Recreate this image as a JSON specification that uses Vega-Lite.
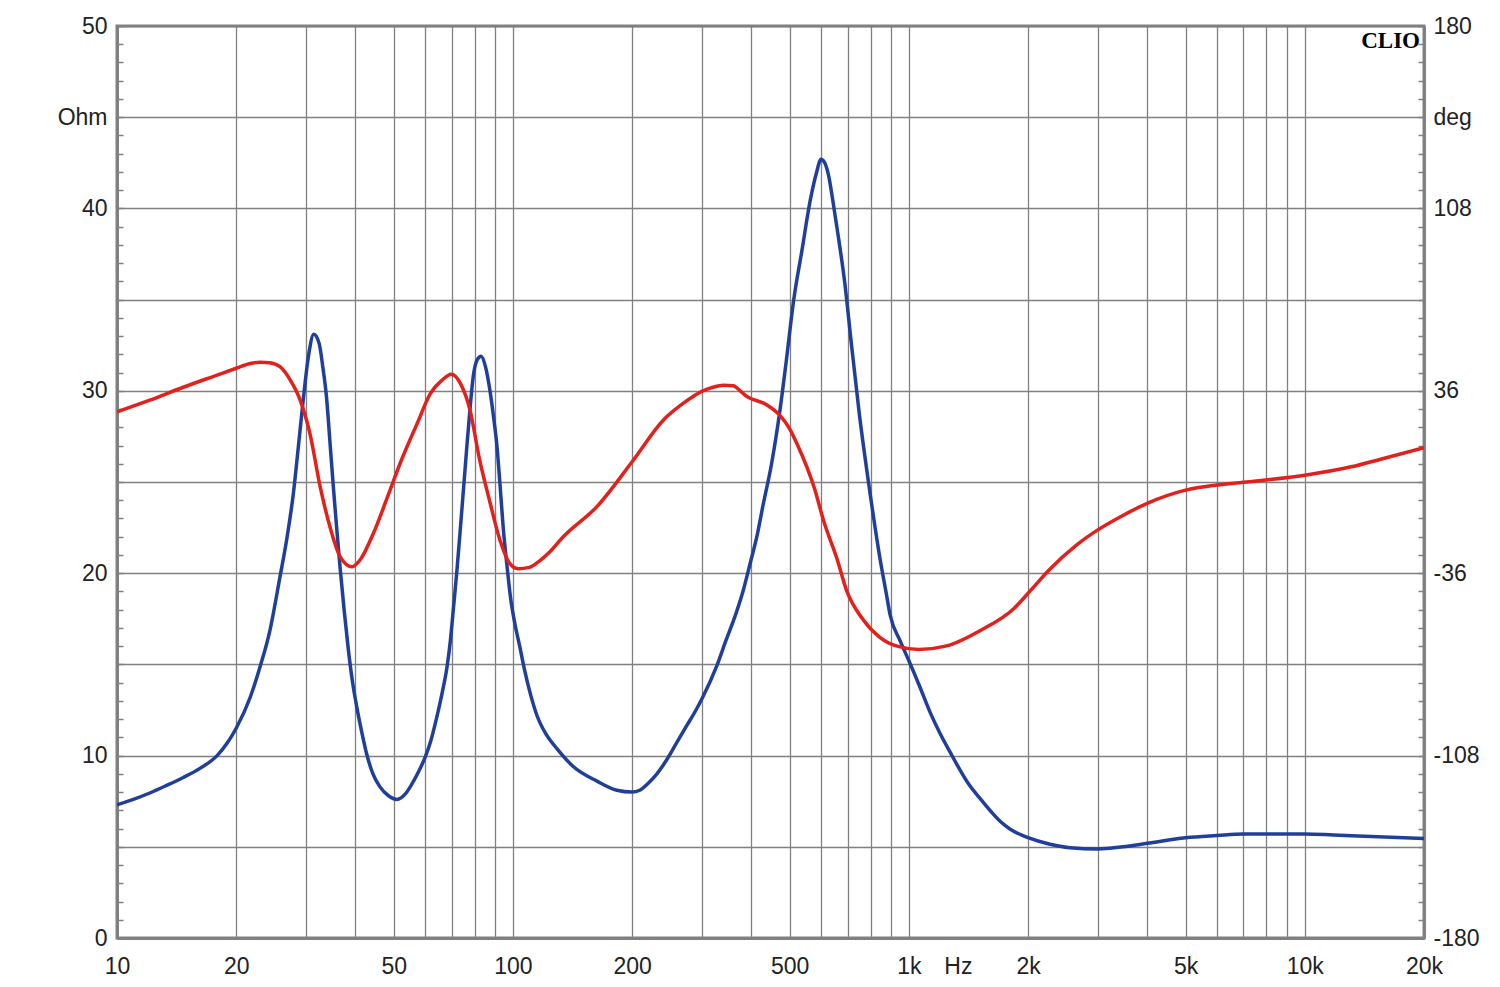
{
  "$schema": "https://vega.github.io/schema/vega-lite/v6.json",
  "width": 1307,
  "height": 912,
  "autosize": "none",
  "padding": {"left": 117, "top": 26, "right": 76, "bottom": 49},
  "background": "white",
  "config": {
    "view": {"stroke": "#808080", "strokeWidth": 3, "fill": "white"},
    "font": "Liberation Sans",
    "axis": {"labelFont": "Liberation Sans", "labelFontSize": 23, "labelColor": "#222222", "title": null}
  },
  "datasets": {
    "impedance": [
      {"f": 10, "ohm": 7.3}, {"f": 11, "ohm": 7.6}, {"f": 12.1, "ohm": 7.95}, {"f": 13.3, "ohm": 8.35},
      {"f": 14.7, "ohm": 8.8}, {"f": 16.2, "ohm": 9.3}, {"f": 17.9, "ohm": 10.0}, {"f": 19, "ohm": 10.7},
      {"f": 20, "ohm": 11.5}, {"f": 21.7, "ohm": 13.2}, {"f": 23, "ohm": 14.9}, {"f": 24.3, "ohm": 16.8},
      {"f": 25.8, "ohm": 19.8}, {"f": 26.9, "ohm": 22.0}, {"f": 27.9, "ohm": 24.4}, {"f": 28.7, "ohm": 26.9},
      {"f": 29.5, "ohm": 29.4}, {"f": 30.5, "ohm": 32.0}, {"f": 31.4, "ohm": 33.1}, {"f": 32.4, "ohm": 32.6},
      {"f": 33.1, "ohm": 31.3}, {"f": 33.8, "ohm": 29.7}, {"f": 34.5, "ohm": 27.2}, {"f": 35.2, "ohm": 24.7},
      {"f": 35.9, "ohm": 22.4}, {"f": 36.6, "ohm": 20.3}, {"f": 37.5, "ohm": 17.9}, {"f": 38.4, "ohm": 15.8},
      {"f": 39.3, "ohm": 14.1}, {"f": 40.3, "ohm": 12.7}, {"f": 41.5, "ohm": 11.3}, {"f": 42.7, "ohm": 10.1},
      {"f": 44.3, "ohm": 9.0}, {"f": 46.1, "ohm": 8.3}, {"f": 48.5, "ohm": 7.8}, {"f": 50.9, "ohm": 7.6},
      {"f": 53.5, "ohm": 7.9}, {"f": 56.1, "ohm": 8.6}, {"f": 58, "ohm": 9.2}, {"f": 60, "ohm": 9.9},
      {"f": 62, "ohm": 10.8}, {"f": 64.2, "ohm": 12.1}, {"f": 66.2, "ohm": 13.4}, {"f": 68.2, "ohm": 14.9},
      {"f": 69.5, "ohm": 16.3}, {"f": 70.7, "ohm": 18.0}, {"f": 72.1, "ohm": 20.0}, {"f": 73.5, "ohm": 22.2},
      {"f": 75, "ohm": 24.6}, {"f": 76.4, "ohm": 26.8}, {"f": 77.9, "ohm": 29.0}, {"f": 79.4, "ohm": 30.8},
      {"f": 81.2, "ohm": 31.7}, {"f": 83.1, "ohm": 31.9}, {"f": 85.3, "ohm": 31.3}, {"f": 87.5, "ohm": 30.0},
      {"f": 89.3, "ohm": 28.6}, {"f": 91, "ohm": 27.1}, {"f": 92.8, "ohm": 24.8}, {"f": 94.5, "ohm": 22.5},
      {"f": 96.6, "ohm": 20.4}, {"f": 98.7, "ohm": 18.6}, {"f": 101, "ohm": 17.3}, {"f": 104, "ohm": 16.0},
      {"f": 107, "ohm": 14.7}, {"f": 110, "ohm": 13.6}, {"f": 115, "ohm": 12.2}, {"f": 121, "ohm": 11.2},
      {"f": 129, "ohm": 10.4}, {"f": 142, "ohm": 9.4}, {"f": 163, "ohm": 8.6}, {"f": 183, "ohm": 8.1},
      {"f": 200, "ohm": 8.0}, {"f": 209, "ohm": 8.1}, {"f": 220, "ohm": 8.5}, {"f": 231, "ohm": 9.0},
      {"f": 245, "ohm": 9.8}, {"f": 259, "ohm": 10.7}, {"f": 274, "ohm": 11.6}, {"f": 290, "ohm": 12.5},
      {"f": 300, "ohm": 13.1}, {"f": 327, "ohm": 14.9}, {"f": 345, "ohm": 16.3}, {"f": 366, "ohm": 17.8},
      {"f": 381, "ohm": 19.0}, {"f": 398, "ohm": 20.6}, {"f": 414, "ohm": 22.1}, {"f": 428, "ohm": 23.7},
      {"f": 450, "ohm": 26.0}, {"f": 473, "ohm": 29.0}, {"f": 490, "ohm": 31.6}, {"f": 512, "ohm": 35.0},
      {"f": 537, "ohm": 37.7}, {"f": 563, "ohm": 40.4}, {"f": 585, "ohm": 42.0}, {"f": 600, "ohm": 42.7},
      {"f": 613, "ohm": 42.5}, {"f": 627, "ohm": 41.8}, {"f": 645, "ohm": 40.2}, {"f": 664, "ohm": 38.4},
      {"f": 689, "ohm": 35.9}, {"f": 714, "ohm": 32.8}, {"f": 749, "ohm": 28.8}, {"f": 793, "ohm": 24.8},
      {"f": 847, "ohm": 20.7}, {"f": 875, "ohm": 19.0}, {"f": 897, "ohm": 17.7}, {"f": 950, "ohm": 16.3},
      {"f": 1000, "ohm": 15.2}, {"f": 1060, "ohm": 13.9}, {"f": 1130, "ohm": 12.4}, {"f": 1200, "ohm": 11.2},
      {"f": 1270, "ohm": 10.2}, {"f": 1420, "ohm": 8.4}, {"f": 1520, "ohm": 7.6}, {"f": 1610, "ohm": 6.95},
      {"f": 1700, "ohm": 6.4}, {"f": 1800, "ohm": 5.98}, {"f": 1900, "ohm": 5.7}, {"f": 2000, "ohm": 5.5},
      {"f": 2260, "ohm": 5.15}, {"f": 2550, "ohm": 4.95}, {"f": 3000, "ohm": 4.88}, {"f": 3470, "ohm": 5.0},
      {"f": 4000, "ohm": 5.19}, {"f": 5000, "ohm": 5.5}, {"f": 6000, "ohm": 5.62}, {"f": 7000, "ohm": 5.7},
      {"f": 10000, "ohm": 5.7}, {"f": 11800, "ohm": 5.65}, {"f": 15300, "ohm": 5.55}, {"f": 20000, "ohm": 5.46}
    ],
    "phase": [
      {"f": 10, "deg": 27.7}, {"f": 12.1, "deg": 32.3}, {"f": 14.7, "deg": 37.4}, {"f": 17.9, "deg": 42.2},
      {"f": 20, "deg": 44.9}, {"f": 21.7, "deg": 46.8}, {"f": 23, "deg": 47.3}, {"f": 24.3, "deg": 47.1},
      {"f": 25.8, "deg": 45.5}, {"f": 27.4, "deg": 40.2}, {"f": 29, "deg": 32.4}, {"f": 30.7, "deg": 19.2},
      {"f": 32.6, "deg": -1.9}, {"f": 34.5, "deg": -17.7}, {"f": 36.6, "deg": -29.5}, {"f": 39.2, "deg": -33.5},
      {"f": 41.1, "deg": -30.8}, {"f": 44.4, "deg": -20.3}, {"f": 47.9, "deg": -7.1}, {"f": 51.9, "deg": 7.4},
      {"f": 57.3, "deg": 23.1}, {"f": 61.9, "deg": 35.0}, {"f": 66, "deg": 40.0}, {"f": 69.9, "deg": 42.5},
      {"f": 73.6, "deg": 39.0}, {"f": 77.9, "deg": 28.4}, {"f": 82.4, "deg": 8.7}, {"f": 87.2, "deg": -7.1},
      {"f": 92.7, "deg": -22.9}, {"f": 98, "deg": -32.0}, {"f": 103, "deg": -34.2}, {"f": 110, "deg": -33.7},
      {"f": 117, "deg": -31.0}, {"f": 124, "deg": -27.5}, {"f": 134, "deg": -21.6}, {"f": 163, "deg": -9.7},
      {"f": 200, "deg": 8.0}, {"f": 240, "deg": 24.5}, {"f": 270, "deg": 31.2}, {"f": 300, "deg": 35.8},
      {"f": 320, "deg": 37.4}, {"f": 340, "deg": 38.2}, {"f": 360, "deg": 38.0}, {"f": 375, "deg": 36.0},
      {"f": 388, "deg": 34.0}, {"f": 437, "deg": 30.5}, {"f": 473, "deg": 26.2}, {"f": 500, "deg": 21.0},
      {"f": 522, "deg": 15.0}, {"f": 576, "deg": -2.0}, {"f": 611, "deg": -16.0}, {"f": 658, "deg": -30.2},
      {"f": 696, "deg": -42.8}, {"f": 765, "deg": -54.2}, {"f": 843, "deg": -61.2}, {"f": 929, "deg": -64.7},
      {"f": 1060, "deg": -66.1}, {"f": 1246, "deg": -64.7}, {"f": 1520, "deg": -58.5}, {"f": 1840, "deg": -50.0},
      {"f": 2030, "deg": -42.8}, {"f": 2260, "deg": -34.7}, {"f": 2650, "deg": -24.9}, {"f": 3000, "deg": -18.9},
      {"f": 3490, "deg": -13.0}, {"f": 4000, "deg": -8.4}, {"f": 5000, "deg": -3.2}, {"f": 6000, "deg": -1.2},
      {"f": 7000, "deg": -0.1}, {"f": 10000, "deg": 2.7}, {"f": 13100, "deg": 6.0}, {"f": 15800, "deg": 9.3},
      {"f": 20000, "deg": 13.5}
    ]
  },
  "layer": [
    {
      "data": {"name": "impedance"},
      "mark": {"type": "line", "color": "#203f9a", "strokeWidth": 3.5, "interpolate": "monotone", "clip": true},
      "encoding": {
        "x": {
          "field": "f", "type": "quantitative",
          "scale": {"type": "log", "domain": [10, 20000], "nice": false},
          "axis": {
            "values": [10, 20, 30, 40, 50, 60, 70, 80, 90, 100, 200, 300, 400, 500, 600, 700, 800, 900, 1000, 1330, 2000, 3000, 4000, 5000, 6000, 7000, 8000, 9000, 10000, 20000],
            "labelExpr": "datum.value==1330?'Hz':datum.value==1000?'1k':datum.value==2000?'2k':datum.value==5000?'5k':datum.value==10000?'10k':datum.value==20000?'20k':indexof([10,20,50,100,200,500],datum.value)>=0?''+datum.value:''",
            "grid": true, "gridColor": "#808080", "gridWidth": 1.3,
            "gridOpacity": {"condition": {"test": "datum.value==1330", "value": 0}, "value": 1},
            "ticks": false, "domainColor": "#808080", "domainWidth": 3,
            "labelPadding": 17, "labelOverlap": false, "labelFlush": false, "labelBound": false
          }
        },
        "y": {
          "field": "ohm", "type": "quantitative",
          "scale": {"domain": [0, 50], "nice": false},
          "axis": {
            "orient": "left",
            "values": [0,1,2,3,4,5,6,7,8,9,10,11,12,13,14,15,16,17,18,19,20,21,22,23,24,25,26,27,28,29,30,31,32,33,34,35,36,37,38,39,40,41,42,43,44,45,46,47,48,49,50],
            "labelExpr": "datum.value==45?'Ohm':datum.value%10==0?''+datum.value:''",
            "grid": true, "gridColor": "#808080", "gridWidth": 1.3,
            "gridOpacity": {"condition": {"test": "datum.value%5==0", "value": 1}, "value": 0},
            "ticks": true, "tickSize": -6, "tickColor": "#808080", "tickWidth": 1.5,
            "domainColor": "#808080", "domainWidth": 3,
            "labelPadding": 16, "labelOverlap": false, "labelFlush": false, "labelBound": false
          }
        }
      }
    },
    {
      "data": {"name": "phase"},
      "mark": {"type": "line", "color": "#e3201b", "strokeWidth": 3.5, "interpolate": "monotone", "clip": true},
      "encoding": {
        "x": {"field": "f", "type": "quantitative"},
        "y": {
          "field": "deg", "type": "quantitative",
          "scale": {"domain": [-180, 180], "nice": false, "zero": false},
          "axis": {
            "orient": "right",
            "values": [-180,-172.8,-165.6,-158.4,-151.2,-144,-136.8,-129.6,-122.4,-115.2,-108,-100.8,-93.6,-86.4,-79.2,-72,-64.8,-57.6,-50.4,-43.2,-36,-28.8,-21.6,-14.4,-7.2,0,7.2,14.4,21.6,28.8,36,43.2,50.4,57.6,64.8,72,79.2,86.4,93.6,100.8,108,115.2,122.4,129.6,136.8,144,151.2,158.4,165.6,172.8,180],
            "labelExpr": "indexof([-180,-108,-36,36,108,180],datum.value)>=0?''+datum.value:abs(datum.value-144)<0.01?'deg':''",
            "grid": false,
            "ticks": true, "tickSize": -6, "tickColor": "#808080", "tickWidth": 1.5,
            "domainColor": "#808080", "domainWidth": 3,
            "labelPadding": 15, "labelOverlap": false, "labelFlush": false, "labelBound": false
          }
        }
      }
    },
    {
      "data": {"values": [{"f": 20000, "v": 50, "t": "CLIO"}]},
      "mark": {"type": "text", "align": "right", "baseline": "top", "dx": -4, "dy": 4, "font": "Liberation Serif", "fontWeight": "bold", "fontSize": 23, "color": "#000000"},
      "encoding": {
        "x": {"field": "f", "type": "quantitative"},
        "y": {"field": "v", "type": "quantitative", "scale": {"domain": [0, 50], "nice": false}, "axis": null},
        "text": {"field": "t"}
      }
    }
  ],
  "resolve": {"scale": {"y": "independent"}}
}
